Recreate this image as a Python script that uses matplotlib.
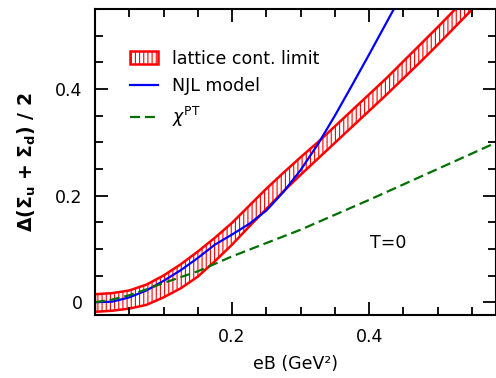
import matplotlib
matplotlib.use("Agg")
import matplotlib.pyplot as plt
from matplotlib.ticker import MultipleLocator, FuncFormatter

plt.rcParams['font.family'] = ['DejaVu Sans']
plt.rcParams['mathtext.default'] = 'regular'
plt.rcParams['hatch.linewidth'] = 0.8

# lattice continuum-limit band
lat_eB = [0.0, 0.025, 0.05, 0.075, 0.1, 0.125, 0.15, 0.175, 0.2, 0.225, 0.25, 0.275,
          0.3, 0.325, 0.35, 0.375, 0.4, 0.425, 0.45, 0.475, 0.5, 0.525, 0.55, 0.575, 0.6]
lat_hi = [0.015, 0.017, 0.022, 0.033, 0.050, 0.071, 0.095, 0.121, 0.149, 0.181, 0.213, 0.243,
          0.272, 0.300, 0.330, 0.360, 0.390, 0.420, 0.452, 0.484, 0.516, 0.549, 0.582, 0.615, 0.648]
lat_lo = [-0.018, -0.016, -0.012, -0.005, 0.009, 0.026, 0.048, 0.077, 0.108, 0.142, 0.175, 0.208,
          0.239, 0.269, 0.299, 0.329, 0.359, 0.389, 0.420, 0.451, 0.483, 0.516, 0.549, 0.582, 0.615]

# NJL model
njl_eB = [0.0, 0.025, 0.05, 0.075, 0.1, 0.125, 0.15, 0.175, 0.2, 0.225, 0.25, 0.275,
          0.3, 0.325, 0.35, 0.375, 0.4, 0.425, 0.45]
njl_val = [0.0, 0.001, 0.009, 0.022, 0.040, 0.060, 0.083, 0.108, 0.127, 0.147, 0.172, 0.207,
           0.248, 0.296, 0.350, 0.407, 0.465, 0.524, 0.583]

# chiral perturbation theory
chpt_eB = [0.0, 0.025, 0.05, 0.075, 0.1, 0.125, 0.15, 0.2, 0.25, 0.3, 0.35, 0.4, 0.45, 0.5, 0.55, 0.6]
chpt_val = [0.0, 0.005, 0.013, 0.024, 0.036, 0.047, 0.058, 0.086, 0.111, 0.136, 0.164, 0.192,
            0.221, 0.250, 0.279, 0.308]

fig = plt.figure(figsize=(4.96, 3.78), dpi=100)
ax = fig.add_axes([95/496, 63/378, 1 - 95/496, (315 - 9)/378])

band = ax.fill_between(lat_eB, lat_lo, lat_hi, facecolor='none', edgecolor='red',
                       hatch='||||', linewidth=1.8, label='lattice cont. limit')
ax.plot(njl_eB, njl_val, color='blue', lw=1.6, label='NJL model')
ax.plot(chpt_eB, chpt_val, color='#007000', lw=1.6, ls=(0, (4.5, 2.2)),
        label=r'$\mathit{\chi}^{PT}$')

ax.set_xlim(0.0, 0.585)
ax.set_ylim(-0.024, 0.55)

ax.xaxis.set_major_locator(MultipleLocator(0.2))
ax.xaxis.set_minor_locator(MultipleLocator(0.05))
ax.yaxis.set_major_locator(MultipleLocator(0.2))
ax.yaxis.set_minor_locator(MultipleLocator(0.05))
ax.xaxis.set_major_formatter(FuncFormatter(lambda v, p: '' if abs(v) < 1e-9 else f'{v:.1f}'))
ax.yaxis.set_major_formatter(FuncFormatter(lambda v, p: '0' if abs(v) < 1e-9 else f'{v:.1f}'))
ax.tick_params(which='both', direction='in', top=True, right=True, width=1.3,
               labelsize=12.5, colors='black')
ax.tick_params(which='major', length=9.5, pad=9)
ax.tick_params(which='minor', length=5.5)
for s in ax.spines.values():
    s.set_linewidth(1.5)

ax.set_xlabel('eB (GeV²)', fontsize=12.5, labelpad=7)
ax.set_ylabel(r'Δ(Σ$_u$ + Σ$_d$) / 2', fontsize=13.5, fontweight='bold', labelpad=12)

ax.text(0.428, 0.111, 'T=0', fontsize=12.5, ha='center', va='center')

leg = ax.legend(loc='upper left', bbox_to_anchor=(0.07, 0.89), frameon=False,
                fontsize=12.5, handlelength=1.6, handletextpad=0.8, labelspacing=0.55,
                borderaxespad=0)

fig.savefig('out.png', dpi=100)
